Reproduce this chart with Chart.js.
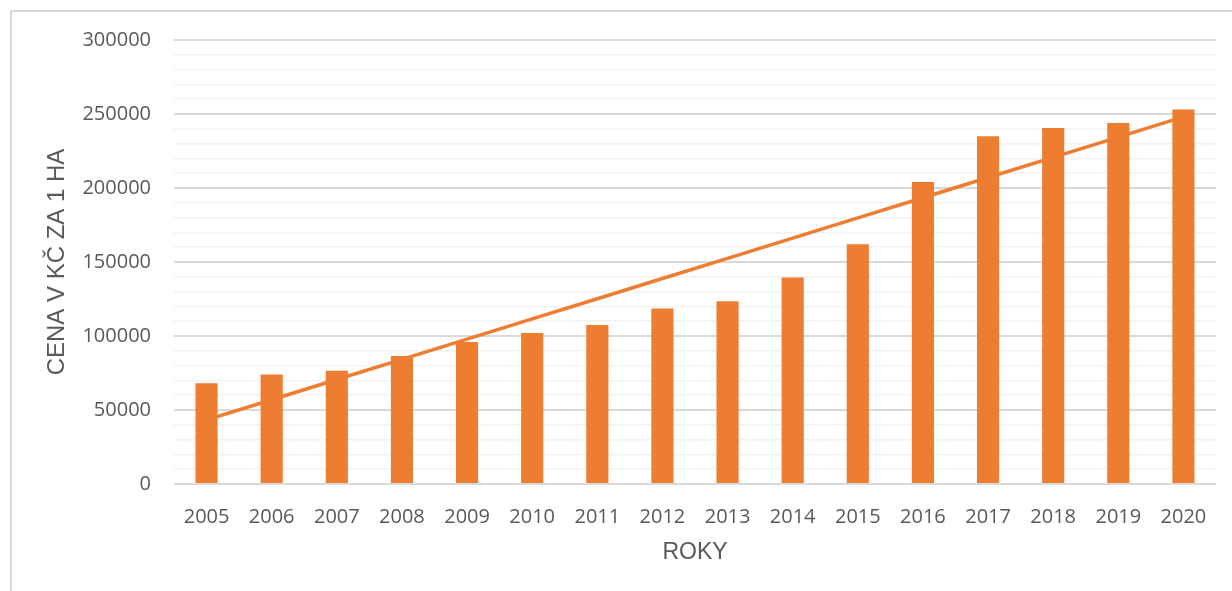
<!DOCTYPE html>
<html>
<head>
<meta charset="utf-8">
<script src="https://cdn.jsdelivr.net/npm/chart.js@4"></script>
<style>
  body { margin: 0; background: #fff; }
  #wrap { position: relative; width: 1232px; height: 591px; }
  #frame { position: absolute; left: 10px; top: 10px; width: 1300px; height: 700px;
           border-left: 2px solid #d9d9d9; border-top: 2px solid #d9d9d9; pointer-events: none; }
</style>
</head>
<body>
<div id="wrap">
  <canvas id="cenaChart" width="1232" height="591"></canvas>
  <div id="frame"></div>
</div>
<script>
// years and price per hectare (CZK)
const years = ['2005', '2006', '2007', '2008', '2009', '2010', '2011', '2012',
               '2013', '2014', '2015', '2016', '2017', '2018', '2019', '2020'];
const prices = [68000, 74000, 76500, 86500, 96000, 102000, 107500, 118500,
                123500, 139500, 162000, 204000, 235000, 240500, 244000, 253000];

// linear trendline (least squares), as Excel draws it
const n = prices.length;
const meanX = (n - 1) / 2;
const meanY = prices.reduce((a, b) => a + b, 0) / n;
let sxy = 0, sxx = 0;
prices.forEach((y, i) => { sxy += (i - meanX) * (y - meanY); sxx += (i - meanX) ** 2; });
const slope = sxy / sxx;
const trend = prices.map((_, i) => meanY + slope * (i - meanX));

const orange = '#ED7D31';
const textGrey = '#595959';

new Chart(document.getElementById('cenaChart'), {
  type: 'bar',
  data: {
    labels: years,
    datasets: [
      {
        type: 'line',
        data: trend,
        borderColor: orange,
        borderWidth: 3.5,
        pointRadius: 0,
        tension: 0,
        order: 0
      },
      {
        data: prices,
        backgroundColor: orange,
        categoryPercentage: 1,
        barPercentage: 0.34,
        order: 1
      }
    ]
  },
  options: {
    responsive: false,
    animation: false,
    layout: { padding: { top: 40, right: 16, bottom: 0, left: 0 } },
    plugins: { legend: { display: false }, tooltip: { enabled: false } },
    scales: {
      x: {
        grid: { display: false },
        border: { display: false },
        ticks: { color: textGrey, font: { family: 'Open Sans', size: 20 }, padding: 13, maxRotation: 0 },
        title: {
          display: true, text: 'ROKY', color: textGrey,
          font: { family: 'Liberation Sans', size: 23 },
          padding: { bottom: 25, top: 0 }
        },
        afterFit: (scale) => { scale.height = 107; }
      },
      y: {
        min: 0,
        max: 300000,
        border: { display: false },
        grid: {
          drawTicks: false,
          color: (ctx) => ctx.tick && ctx.tick.value % 50000 === 0 ? '#d9d9d9' : '#f2f2f2',
          lineWidth: (ctx) => ctx.tick && ctx.tick.value % 50000 === 0 ? 2 : 1.5
        },
        ticks: {
          stepSize: 10000,
          autoSkip: false,
          padding: 23,
          color: textGrey,
          font: { family: 'Open Sans', size: 20 },
          callback: (v) => v % 50000 === 0 ? String(v) : ''
        },
        title: {
          display: true, text: 'CENA V KČ ZA 1 HA', color: textGrey,
          font: { family: 'Liberation Sans', size: 24 },
          padding: { top: 43, bottom: 0 }
        },
        afterFit: (scale) => { scale.width = 174; }
      }
    }
  }
});
</script>
</body>
</html>
